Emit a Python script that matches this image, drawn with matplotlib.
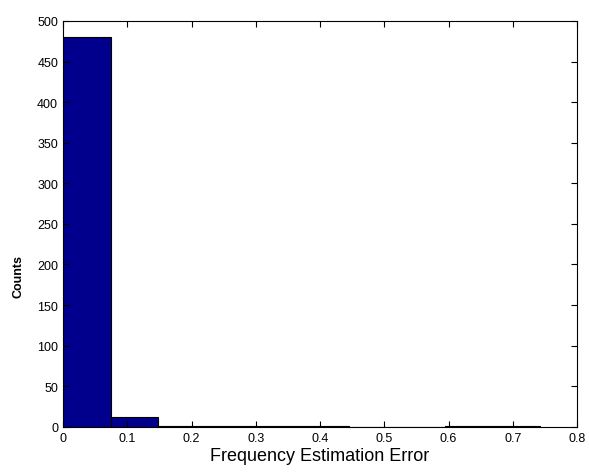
import numpy as np
import matplotlib.pyplot as plt

plt.rcParams['font.family'] = ['Liberation Sans', 'DejaVu Sans']

# histogram of frequency estimation errors (10 bins)
bin_edges = np.linspace(0, 0.742, 11)
counts = [480, 12, 1, 1, 1, 1, 0, 0, 1, 1]
xticks = [0, 0.1, 0.2, 0.3, 0.4, 0.5, 0.6, 0.7, 0.8]
yticks = [0, 50, 100, 150, 200, 250, 300, 350, 400, 450, 500]

fig = plt.figure(figsize=(5.89, 4.77), dpi=100)
ax = fig.add_axes([0.107, 0.103, 0.873, 0.851])

ax.bar(bin_edges[:-1], counts, width=np.diff(bin_edges), align='edge',
       color='#00008C', edgecolor='black', linewidth=0.8)

ax.set_xlim(0, 0.8)
ax.set_ylim(0, 500)
ax.set_xticks(xticks)
ax.set_xticklabels(['0', '0.1', '0.2', '0.3', '0.4', '0.5', '0.6', '0.7', '0.8'])
ax.set_yticks(yticks)
ax.tick_params(direction='in', top=True, right=True, labelsize=9, length=4)
for s in ax.spines.values():
    s.set_linewidth(0.8)

ax.set_xlabel('Frequency Estimation Error', fontsize=13, labelpad=2)
fig.text(18 / 589, 1 - 277 / 477, 'Counts', rotation=90, fontsize=9,
         fontweight='bold', ha='center', va='center')

fig.savefig('out.png', dpi=100)
